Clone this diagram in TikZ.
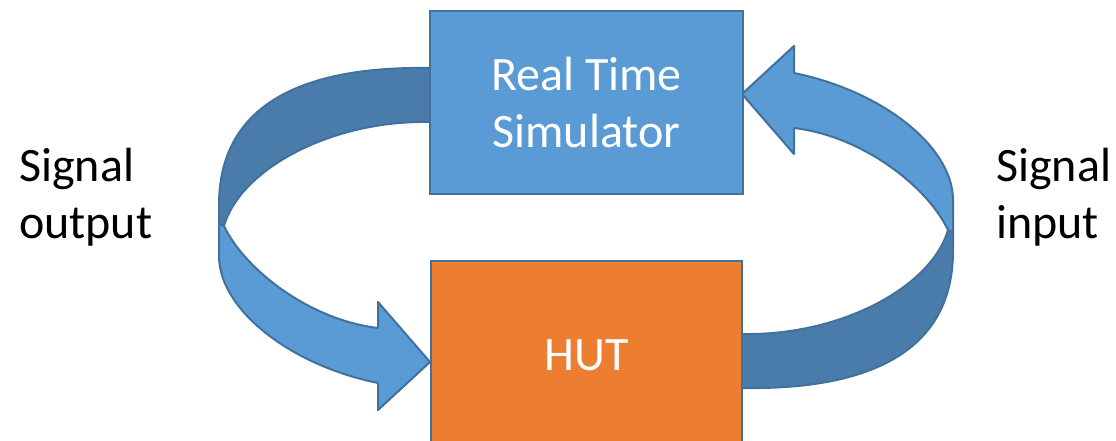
\documentclass[tikz,border=0pt]{standalone}
\usepackage{fontspec}
\setmainfont{Carlito}
\definecolor{lblue}{HTML}{5B9BD5}
\definecolor{dblue}{HTML}{497CAA}
\definecolor{edgeblue}{HTML}{41719C}
\definecolor{orng}{HTML}{ED7D31}
\tikzset{
  band/.style={draw=edgeblue, line width=2pt, line join=round},
  boxstyle/.style={draw=edgeblue, line width=2pt, text=white, align=center,
    inner sep=0pt, font=\fontsize{48}{57}\selectfont},
  lbl/.style={align=left, inner sep=0pt, text=black, font=\fontsize{48}{57}\selectfont},
  curvedarr/.pic={
    \path[band, fill=dblue] (438,68) -- (430,68)
      .. controls (310,66) and (219,100) .. (219,205)
      -- (219,224) -- (224,226)
      .. controls (240,170) and (330,120) .. (430,122) -- (438,122) -- cycle;
    \path[band, fill=lblue] (219,224) -- (219,257)
      .. controls (220,310) and (290,365) .. (378,383)
      -- (378,410) -- (430,362) -- (378,302) -- (378,328)
      .. controls (310,320) and (245,270) .. (224,226) -- cycle;
  }
}
\begin{document}
\begin{tikzpicture}[x=1pt,y=-1pt]
\useasboundingbox (0,0) rectangle (1116,441);
\clip (0,0) rectangle (1116,441);
\pic at (0,0) {curvedarr};
\pic[rotate=180] at (1172,456) {curvedarr};
\node[boxstyle, fill=lblue, minimum width=313pt, minimum height=183pt] (rts) at (586.5,102.5) {Real Time\\Simulator};
\node[boxstyle, fill=orng, minimum width=311pt, minimum height=189pt] (hut) at (586.5,355.5) {HUT};
\node[lbl, anchor=west] (sout) at (19,197) {Signal\\output};
\node[lbl, anchor=west] (sin) at (996,197) {Signal\\input};
\end{tikzpicture}
\end{document}
